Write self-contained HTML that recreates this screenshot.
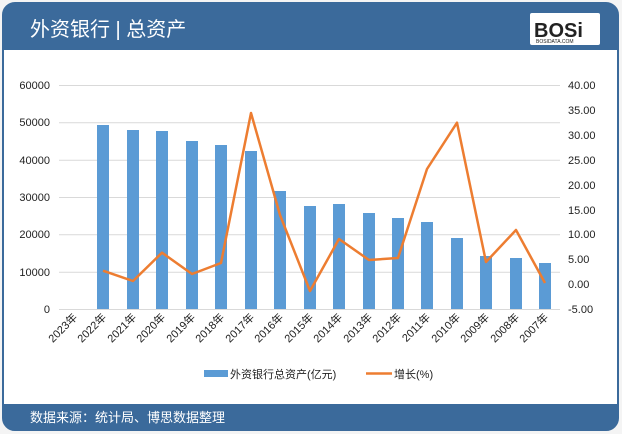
<!DOCTYPE html>
<html><head><meta charset="utf-8"><style>
html,body{margin:0;padding:0;background:#fff;}
body{width:622px;height:434px;overflow:hidden;font-family:"Liberation Sans","Noto Sans CJK SC",sans-serif;}
</style></head><body>
<svg width="622" height="434" viewBox="0 0 622 434" xmlns="http://www.w3.org/2000/svg" font-family="Liberation Sans, Noto Sans CJK SC, sans-serif">
<rect x="0" y="0" width="622" height="434" fill="#f4f4f4"/>
<rect x="3" y="3" width="615" height="427" rx="12" fill="#fff" stroke="#3b6a9b" stroke-width="2"/>
<path d="M3 50 V15 a12 12 0 0 1 12 -12 H606 a12 12 0 0 1 12 12 V50 Z" fill="#3b6a9b"/>
<path d="M3 404 H618 V418 a12 12 0 0 1 -12 12 H15 a12 12 0 0 1 -12 -12 Z" fill="#3b6a9b"/>
<text x="30" y="36" fill="#fff" font-size="20">外资银行 | 总资产</text>
<rect x="530" y="13" width="70" height="32" fill="#fff" rx="2"/>
<text x="534" y="37" font-size="20" font-weight="bold" fill="#222">BOSi</text>
<text x="536" y="43" font-size="5" fill="#222">BOSIDATA.COM</text>
<text x="30" y="422" fill="#fff" font-size="13">数据来源：统计局、博思数据整理</text>
<g stroke="#d9d9d9" stroke-width="1">
<line x1="59" y1="85.5" x2="560" y2="85.5"/><line x1="59" y1="122.8" x2="560" y2="122.8"/>
<line x1="59" y1="160.2" x2="560" y2="160.2"/><line x1="59" y1="197.5" x2="560" y2="197.5"/>
<line x1="59" y1="234.8" x2="560" y2="234.8"/><line x1="59" y1="272.2" x2="560" y2="272.2"/>
<line x1="59" y1="309.5" x2="560" y2="309.5"/>
</g>
<g font-size="11" fill="#222" text-anchor="end">
<text x="50" y="89">60000</text><text x="50" y="126">50000</text><text x="50" y="164">40000</text>
<text x="50" y="201">30000</text><text x="50" y="238">20000</text><text x="50" y="276">10000</text><text x="50" y="313">0</text>
</g>
<g font-size="11" fill="#222">
<text x="568" y="89">40.00</text><text x="568" y="114">35.00</text><text x="568" y="139">30.00</text>
<text x="568" y="164">25.00</text><text x="568" y="189">20.00</text><text x="568" y="214">15.00</text>
<text x="568" y="238">10.00</text><text x="568" y="263">5.00</text><text x="568" y="288">0.00</text><text x="568" y="313">-5.00</text>
</g>
<g fill="#5b9bd5">
<rect x="97" y="125" width="12" height="184"/><rect x="127" y="130" width="12" height="179"/>
<rect x="156" y="131" width="12" height="178"/><rect x="186" y="141" width="12" height="168"/>
<rect x="215" y="145" width="12" height="164"/><rect x="245" y="151" width="12" height="158"/>
<rect x="274" y="191" width="12" height="118"/><rect x="304" y="206" width="12" height="103"/>
<rect x="333" y="204" width="12" height="105"/><rect x="363" y="213" width="12" height="96"/>
<rect x="392" y="218" width="12" height="91"/><rect x="421" y="222" width="12" height="87"/>
<rect x="451" y="238" width="12" height="71"/><rect x="480" y="256" width="12" height="53"/>
<rect x="510" y="258" width="12" height="51"/><rect x="539" y="263" width="12" height="46"/>
</g>
<polyline fill="none" stroke="#ed7d31" stroke-width="2.5" stroke-linejoin="round" points="103,270.7 133,281 162,252.7 192,274 221,263 251,113 280,215 310,291 339,239 369,260 398,258 427,169 457,122.7 486,262 516,230 545,283"/>
<g font-size="11" fill="#222" text-anchor="end">
<text transform="translate(78,318) rotate(-45)">2023年</text>
<text transform="translate(107,318) rotate(-45)">2022年</text>
<text transform="translate(137,318) rotate(-45)">2021年</text>
<text transform="translate(166,318) rotate(-45)">2020年</text>
<text transform="translate(196,318) rotate(-45)">2019年</text>
<text transform="translate(225,318) rotate(-45)">2018年</text>
<text transform="translate(255,318) rotate(-45)">2017年</text>
<text transform="translate(284,318) rotate(-45)">2016年</text>
<text transform="translate(314,318) rotate(-45)">2015年</text>
<text transform="translate(343,318) rotate(-45)">2014年</text>
<text transform="translate(373,318) rotate(-45)">2013年</text>
<text transform="translate(402,318) rotate(-45)">2012年</text>
<text transform="translate(431,318) rotate(-45)">2011年</text>
<text transform="translate(461,318) rotate(-45)">2010年</text>
<text transform="translate(490,318) rotate(-45)">2009年</text>
<text transform="translate(520,318) rotate(-45)">2008年</text>
<text transform="translate(549,318) rotate(-45)">2007年</text>
</g>
<rect x="204" y="370" width="24" height="7" fill="#5b9bd5"/>
<text x="230" y="378" font-size="11" fill="#222">外资银行总资产(亿元)</text>
<line x1="366" y1="373.5" x2="392" y2="373.5" stroke="#ed7d31" stroke-width="2.5"/>
<text x="394" y="378" font-size="11" fill="#222">增长(%)</text>
</svg>
</body></html>
